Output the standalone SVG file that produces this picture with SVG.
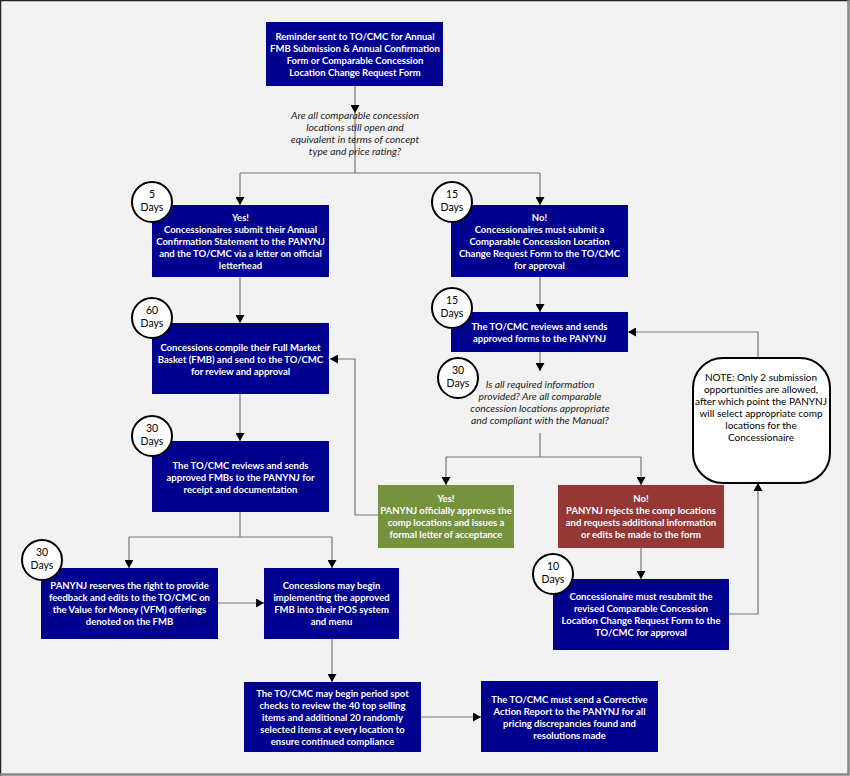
<svg xmlns="http://www.w3.org/2000/svg" width="850" height="776" viewBox="0 0 850 776">
<defs>
<marker id="arr" markerUnits="userSpaceOnUse" markerWidth="9" markerHeight="9" refX="8" refY="4.5" orient="auto">
<path d="M0,0 L8,4.5 L0,9 z" fill="#000"/>
</marker>
<style>
.box{fill:#00008f;}
.green{fill:#76923c;}
.red{fill:#953735;}
.bt{font-family:Lato,"Liberation Sans",sans-serif;font-size:9.5px;font-weight:bold;fill:#fff;text-anchor:middle;}
.q{font-family:Lato,"Liberation Sans",sans-serif;font-size:10.3px;font-style:italic;fill:#222;text-anchor:middle;}
.nt{font-family:Lato,"Liberation Sans",sans-serif;font-size:10px;fill:#000;text-anchor:middle;}
.circ{fill:#fff;stroke:#000;stroke-width:2;}
.ct{font-family:Lato,"Liberation Sans",sans-serif;font-size:10.5px;fill:#000;text-anchor:middle;}
.c{fill:none;stroke:#777;stroke-width:1.2;}
.ca{fill:none;stroke:#777;stroke-width:1.2;marker-end:url(#arr);}
</style>
</defs>
<rect x="0" y="0" width="850" height="776" fill="#f2f2f2"/>
<path d="M0.5,776 V0.5 H850" fill="none" stroke="#222" stroke-width="1.5"/>
<path d="M848.5,0 V774.5 H0" fill="none" stroke="#888" stroke-width="2.5"/>

<g id="connectors">
<path class="ca" d="M355,86 V113"/>
<path class="c" d="M355,113 V173"/>
<path class="c" d="M240,173 H540"/>
<path class="ca" d="M240,173 V205"/>
<path class="ca" d="M540,173 V205"/>
<path class="ca" d="M240,277 V323"/>
<path class="ca" d="M540,277 V312"/>
<path class="ca" d="M240,394 V441"/>
<path class="ca" d="M540,352 V371"/>
<path class="c" d="M540,433 V457"/>
<path class="c" d="M446,457 H641"/>
<path class="ca" d="M446,457 V485"/>
<path class="ca" d="M641,457 V485"/>
<path class="ca" d="M378,515 H355 V359 H330"/>
<path class="ca" d="M641,548 V579"/>
<path class="ca" d="M729,614 H758 V483"/>
<path class="ca" d="M758,358 V332 H628"/>
<path class="c" d="M240,512 V537"/>
<path class="c" d="M129,537 H332"/>
<path class="ca" d="M129,537 V568"/>
<path class="ca" d="M332,537 V568"/>
<path class="ca" d="M218,603 H264"/>
<path class="ca" d="M332,639 V682"/>
<path class="ca" d="M421,717 H481"/>
</g>

<g id="reminder">
<rect class="box" x="266" y="22" width="177" height="64"/>
<text class="bt" x="355" y="40">Reminder sent to TO/CMC for Annual</text>
<text class="bt" x="355" y="52">FMB Submission &amp; Annual Confirmation</text>
<text class="bt" x="355" y="64">Form or Comparable Concession</text>
<text class="bt" x="355" y="76">Location Change Request Form</text>
</g>

<g id="question1">
<text class="q" x="355" y="119">Are all comparable concession</text>
<text class="q" x="355" y="131">locations still open and</text>
<text class="q" x="355" y="143">equivalent in terms of concept</text>
<text class="q" x="355" y="155">type and price rating?</text>
</g>

<g id="yes1">
<rect class="box" x="152" y="205" width="177" height="72"/>
<text class="bt" x="240.5" y="221">Yes!</text>
<text class="bt" x="240.5" y="233">Concessionaires submit their Annual</text>
<text class="bt" x="240.5" y="245">Confirmation Statement to the PANYNJ</text>
<text class="bt" x="240.5" y="257">and the TO/CMC via a letter on official</text>
<text class="bt" x="240.5" y="269">letterhead</text>
</g>
<g id="c5">
<circle class="circ" cx="152" cy="202" r="20"/>
<text class="ct" x="152" y="198">5</text>
<text class="ct" x="152" y="211">Days</text>
</g>

<g id="no1">
<rect class="box" x="451" y="205" width="177" height="72"/>
<text class="bt" x="539.5" y="221">No!</text>
<text class="bt" x="539.5" y="233">Concessionaires must submit a</text>
<text class="bt" x="539.5" y="245">Comparable Concession Location</text>
<text class="bt" x="539.5" y="257">Change Request Form to the TO/CMC</text>
<text class="bt" x="539.5" y="269">for approval</text>
</g>
<g id="c15a">
<circle class="circ" cx="452" cy="202" r="20"/>
<text class="ct" x="452" y="198">15</text>
<text class="ct" x="452" y="211">Days</text>
</g>

<g id="fmb">
<rect class="box" x="152" y="323" width="177" height="71"/>
<text class="bt" x="240.5" y="350.5">Concessions compile their Full Market</text>
<text class="bt" x="240.5" y="362.5">Basket (FMB) and send to the TO/CMC</text>
<text class="bt" x="240.5" y="374.5">for review and approval</text>
</g>
<g id="c60">
<circle class="circ" cx="152" cy="318" r="20"/>
<text class="ct" x="152" y="314">60</text>
<text class="ct" x="152" y="327">Days</text>
</g>

<g id="review-forms">
<rect class="box" x="451" y="312" width="177" height="40"/>
<text class="bt" x="539.5" y="330">The TO/CMC reviews and sends</text>
<text class="bt" x="539.5" y="342">approved forms to the PANYNJ</text>
</g>
<g id="c15b">
<circle class="circ" cx="452" cy="308" r="20"/>
<text class="ct" x="452" y="304">15</text>
<text class="ct" x="452" y="317">Days</text>
</g>

<g id="question2">
<text class="q" x="540" y="388">Is all required information</text>
<text class="q" x="540" y="400">provided? Are all comparable</text>
<text class="q" x="540" y="412">concession locations appropriate</text>
<text class="q" x="540" y="424">and compliant with the Manual?</text>
</g>
<g id="c30a">
<circle class="circ" cx="458" cy="378" r="20"/>
<text class="ct" x="458" y="374">30</text>
<text class="ct" x="458" y="387">Days</text>
</g>

<g id="note">
<rect x="693" y="358" width="137" height="125" rx="30" ry="30" fill="#fff" stroke="#000" stroke-width="2"/>
<text class="nt" x="761" y="381">NOTE: Only 2 submission</text>
<text class="nt" x="761" y="393">opportunities are allowed,</text>
<text class="nt" x="761" y="405">after which point the PANYNJ</text>
<text class="nt" x="761" y="417">will select appropriate comp</text>
<text class="nt" x="761" y="429">locations for the</text>
<text class="nt" x="761" y="441">Concessionaire</text>
</g>

<g id="review-fmb">
<rect class="box" x="152" y="441" width="177" height="71"/>
<text class="bt" x="240.5" y="468.5">The TO/CMC reviews and sends</text>
<text class="bt" x="240.5" y="480.5">approved FMBs to the PANYNJ for</text>
<text class="bt" x="240.5" y="492.5">receipt and documentation</text>
</g>
<g id="c30b">
<circle class="circ" cx="152" cy="436" r="20"/>
<text class="ct" x="152" y="432">30</text>
<text class="ct" x="152" y="445">Days</text>
</g>

<g id="yes2">
<rect class="green" x="378" y="485" width="136" height="63"/>
<text class="bt" x="446" y="502">Yes!</text>
<text class="bt" x="446" y="514">PANYNJ officially approves the</text>
<text class="bt" x="446" y="526">comp locations and issues a</text>
<text class="bt" x="446" y="538">formal letter of acceptance</text>
</g>

<g id="no2">
<rect class="red" x="558" y="485" width="166" height="63"/>
<text class="bt" x="641" y="502">No!</text>
<text class="bt" x="641" y="514">PANYNJ rejects the comp locations</text>
<text class="bt" x="641" y="526">and requests additional information</text>
<text class="bt" x="641" y="538">or edits be made to the form</text>
</g>

<g id="feedback">
<rect class="box" x="41" y="568" width="177" height="71"/>
<text class="bt" x="129.5" y="589">PANYNJ reserves the right to provide</text>
<text class="bt" x="129.5" y="601">feedback and edits to the TO/CMC on</text>
<text class="bt" x="129.5" y="613">the Value for Money (VFM) offerings</text>
<text class="bt" x="129.5" y="625">denoted on the FMB</text>
</g>
<g id="c30c">
<circle class="circ" cx="42" cy="560" r="20"/>
<text class="ct" x="42" y="556">30</text>
<text class="ct" x="42" y="569">Days</text>
</g>

<g id="implement">
<rect class="box" x="264" y="568" width="135" height="71"/>
<text class="bt" x="331.5" y="589">Concessions may begin</text>
<text class="bt" x="331.5" y="601">implementing the approved</text>
<text class="bt" x="331.5" y="613">FMB into their POS system</text>
<text class="bt" x="331.5" y="625">and menu</text>
</g>

<g id="resubmit">
<rect class="box" x="553" y="579" width="176" height="71"/>
<text class="bt" x="641" y="600">Concessionaire must resubmit the</text>
<text class="bt" x="641" y="612">revised Comparable Concession</text>
<text class="bt" x="641" y="624">Location Change Request Form to the</text>
<text class="bt" x="641" y="636">TO/CMC for approval</text>
</g>
<g id="c10">
<circle class="circ" cx="553" cy="574" r="20"/>
<text class="ct" x="553" y="570">10</text>
<text class="ct" x="553" y="583">Days</text>
</g>

<g id="spotcheck">
<rect class="box" x="244" y="682" width="177" height="70"/>
<text class="bt" x="332.5" y="697">The TO/CMC may begin period spot</text>
<text class="bt" x="332.5" y="709">checks to review the 40 top selling</text>
<text class="bt" x="332.5" y="721">items and additional 20 randomly</text>
<text class="bt" x="332.5" y="733">selected items at every location to</text>
<text class="bt" x="332.5" y="745">ensure continued compliance</text>
</g>

<g id="corrective">
<rect class="box" x="481" y="681" width="177" height="71"/>
<text class="bt" x="569.5" y="702.5">The TO/CMC must send a Corrective</text>
<text class="bt" x="569.5" y="714.5">Action Report to the PANYNJ for all</text>
<text class="bt" x="569.5" y="726.5">pricing discrepancies found and</text>
<text class="bt" x="569.5" y="738.5">resolutions made</text>
</g>
</svg>
